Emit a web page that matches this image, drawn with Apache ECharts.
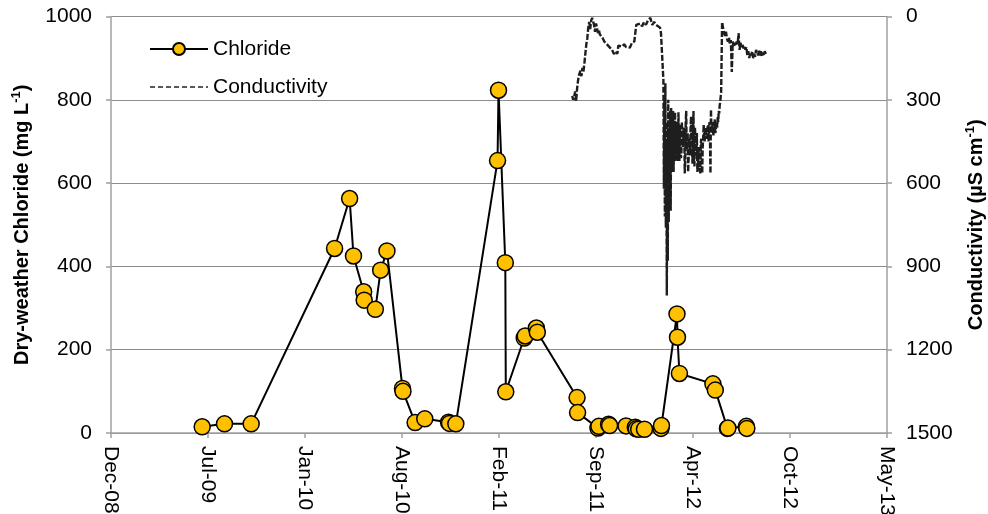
<!DOCTYPE html>
<html>
<head>
<meta charset="utf-8">
<script src="https://cdn.jsdelivr.net/npm/echarts@6/dist/echarts.min.js"></script>
<style>
html,body{margin:0;padding:0;background:#fff;}
#chart{width:988px;height:514px;}
</style>
</head>
<body>
<div id="chart"></div>
<script>
// ---- Data ----
var axisStartDate = '2008-12-19';   // first x tick (Dec-08)
var axisStepDays = 200;             // x tick spacing (days)
var axisSpanDays = 1600;            // Dec-08 .. May-13
var monthNames = ['Jan','Feb','Mar','Apr','May','Jun','Jul','Aug','Sep','Oct','Nov','Dec'];

var chlorideDates = [
  '2009-06-25','2009-08-10','2009-10-04','2010-03-25','2010-04-25','2010-05-03',
  '2010-05-24','2010-05-25','2010-06-17','2010-06-28','2010-07-11','2010-08-12',
  '2010-08-13','2010-09-07','2010-09-27','2010-11-15','2010-11-17','2010-11-30',
  '2011-02-24','2011-02-26','2011-03-12','2011-03-13','2011-04-20','2011-04-22',
  '2011-05-15','2011-05-17','2011-08-07','2011-08-08','2011-09-19','2011-09-21',
  '2011-10-11','2011-10-13','2011-11-16','2011-12-05','2011-12-07','2011-12-12',
  '2011-12-24','2012-01-27','2012-01-28','2012-02-29','2012-03-01','2012-03-05',
  '2012-05-13','2012-05-18','2012-06-12','2012-06-13','2012-07-21','2012-07-22'
];
var chlorideValues = [
  15, 22, 22, 443, 563, 425,
  339, 319, 297, 391, 437, 107,
  100, 25, 34, 26, 23, 22,
  654, 823, 409, 99, 228, 233,
  252, 242, 85, 49, 12, 16,
  21, 18, 17, 14, 10, 9,
  9, 11, 18, 286, 230, 143,
  118, 103, 11, 12, 16, 11
];

// conductivity logger readings (date, µS/cm)
var condDatesA = [
  '2011-07-28','2011-07-30','2011-08-01','2011-08-03','2011-08-05','2011-08-07','2011-08-09','2011-08-11',
  '2011-08-14','2011-08-16','2011-08-18','2011-08-20','2011-08-22','2011-08-24','2011-08-26','2011-08-28',
  '2011-08-30','2011-09-01','2011-09-03','2011-09-05','2011-09-07','2011-09-09','2011-09-11','2011-09-13',
  '2011-09-15','2011-09-17','2011-09-19','2011-09-21','2011-09-23','2011-09-28','2011-10-02','2011-10-06',
  '2011-10-10','2011-10-14','2011-10-18','2011-10-22','2011-10-26','2011-10-29','2011-10-31','2011-11-04',
  '2011-11-08','2011-11-12','2011-11-16','2011-11-20','2011-11-24','2011-11-28','2011-12-03','2011-12-05',
  '2011-12-07','2011-12-11','2011-12-15','2011-12-19','2011-12-23','2011-12-27','2011-12-31','2012-01-05',
  '2012-01-09','2012-01-13','2012-01-17','2012-01-21','2012-01-25','2012-01-27',
  '2012-02-01','2012-02-02','2012-02-03','2012-02-04','2012-02-05','2012-02-06','2012-02-07','2012-02-08',
  '2012-02-09','2012-02-10','2012-02-11','2012-02-12','2012-02-13','2012-02-14','2012-02-15','2012-02-16',
  '2012-02-17','2012-02-18','2012-02-19','2012-02-20','2012-02-21','2012-02-22','2012-02-23','2012-02-24',
  '2012-02-25','2012-02-26','2012-02-27','2012-02-28','2012-02-29'
];
var condValuesA = [
  286, 300, 290, 270, 305, 260, 230, 210,
  195, 215, 185, 200, 170, 135, 100, 80,
  40, 20, 45, 15, 5, 0, 30, 55,
  25, 40, 60, 50, 65, 75, 90, 85,
  105, 110, 120, 135, 125, 135, 105, 100,
  108, 100, 110, 105, 112, 95, 90, 60,
  30, 35, 25, 35, 20, 30, 15, 5,
  30, 20, 30, 25, 40, 60,
  230, 620, 300, 720, 240, 760, 450, 1005,
  380, 880, 300, 740, 420, 640, 340, 700,
  330, 560, 350, 520, 340, 560, 380, 500,
  345, 520, 400, 470, 380
];
// daily readings, March-May 2012
var condMarValues = [400, 520, 345, 470, 520, 390, 400, 510, 500, 380, 440, 470, 450, 400, 420, 565,
  520, 380, 340, 480, 470, 420, 560, 510, 440, 460, 500, 400, 360, 490, 480];
var condAprValues = [530, 420, 340, 520, 540, 400, 440, 480, 500, 420, 560, 530, 520, 470, 555,
  545, 565, 460, 440, 520, 565, 470, 440, 390, 420, 450, 420, 400, 400, 440];
var condMayValues = [430, 400, 390, 450, 420, 380, 440, 565, 335, 400, 420, 380, 400, 430, 400,
  410, 370, 420, 410, 390, 380, 400, 360, 380, 340, 350, 320, 310, 290, 275];
var condDatesB = [
  '2012-06-01','2012-06-03','2012-06-05','2012-06-07','2012-06-09','2012-06-11','2012-06-13','2012-06-15',
  '2012-06-17','2012-06-19','2012-06-21','2012-06-23','2012-06-25','2012-06-27','2012-06-29','2012-07-01',
  '2012-07-03','2012-07-05','2012-07-07','2012-07-09','2012-07-11','2012-07-13','2012-07-15','2012-07-17',
  '2012-07-19','2012-07-21','2012-07-23','2012-07-25','2012-07-27','2012-07-29','2012-07-31','2012-08-02',
  '2012-08-04','2012-08-06','2012-08-08','2012-08-10','2012-08-12','2012-08-14','2012-08-16','2012-08-18',
  '2012-08-20','2012-08-22','2012-08-24','2012-08-26','2012-08-28','2012-08-30'
];
var condValuesB = [
  20, 40, 60, 70, 55, 80, 90, 75,
  100, 85, 200, 90, 110, 95, 105, 90,
  100, 60, 120, 95, 110, 100, 115, 105,
  120, 110, 140, 125, 150, 130, 140, 125,
  150, 135, 145, 120, 130, 140, 120, 140,
  125, 145, 130, 140, 125, 135
];

// ---- helpers ----
var DAY = 86400000;
function toUTC(s){ var p = s.split('-'); return Date.UTC(+p[0], +p[1]-1, +p[2]); }
var baseMs = toUTC(axisStartDate);
function dayOffset(s){ return Math.round((toUTC(s) - baseMs) / DAY); }
function labelFor(v){
  var d = new Date(baseMs + v * DAY);
  var yy = String(d.getUTCFullYear() % 100);
  if (yy.length < 2) yy = '0' + yy;
  return monthNames[d.getUTCMonth()] + '-' + yy;
}
function monthRows(year, month, values){
  return values.map(function(v, i){
    var ms = Date.UTC(year, month - 1, i + 1);
    return [Math.round((ms - baseMs) / DAY), v];
  });
}
var chlorideData = chlorideDates.map(function(d, i){ return [dayOffset(d), chlorideValues[i]]; });
var condData = []
  .concat(condDatesA.map(function(d, i){ return [dayOffset(d), condValuesA[i]]; }))
  .concat(monthRows(2012, 3, condMarValues))
  .concat(monthRows(2012, 4, condAprValues))
  .concat(monthRows(2012, 5, condMayValues))
  .concat(condDatesB.map(function(d, i){ return [dayOffset(d), condValuesB[i]]; }));

var FONT = '"Liberation Sans", Arial, sans-serif';
var gridGray = '#8c8c8c';
var axisGray = '#a0a0a0';

var chart = echarts.init(document.getElementById('chart'), null, {renderer: 'canvas'});
chart.setOption({
  animation: false,
  backgroundColor: '#fff',
  textStyle: {fontFamily: FONT},
  grid: {left: 111, right: 101, top: 16.5, bottom: 81, containLabel: false, outerBoundsMode: 'none'},
  legend: {
    orient: 'vertical',
    left: 144, top: 32,
    itemWidth: 58, itemHeight: 15, itemGap: 14,
    textStyle: {fontFamily: FONT, fontSize: 21, color: '#000', lineHeight: 24},
    data: [
      {name: 'Chloride'},
      {name: 'Conductivity', itemStyle: {opacity: 0, borderWidth: 0},
        lineStyle: {color: '#222', width: 1.6, type: [5, 3]}}
    ]
  },
  xAxis: {
    type: 'value',
    min: 0, max: axisSpanDays, interval: axisStepDays,
    axisLine: {show: true, lineStyle: {color: axisGray, width: 1.5}},
    axisTick: {show: true, length: 5, lineStyle: {color: axisGray, width: 1.5}},
    splitLine: {show: false},
    axisLabel: {
      rotate: -90, margin: 13, fontSize: 21, color: '#000', fontFamily: FONT,
      formatter: function(v){ return labelFor(v); }
    }
  },
  yAxis: [
    {
      type: 'value', min: 0, max: 1000, interval: 200,
      position: 'left',
      name: 'Dry-weather Chloride (mg L{sup|-1})',
      nameLocation: 'middle', nameGap: 77, nameRotate: 90,
      nameTextStyle: {fontFamily: FONT, fontSize: 20, fontWeight: 'bold', color: '#000', lineHeight: 24,
        rich: {sup: {fontFamily: FONT, fontSize: 13, fontWeight: 'bold', color: '#000', verticalAlign: 'top', lineHeight: 14}}},
      axisLine: {show: true, lineStyle: {color: axisGray, width: 1.5}},
      axisTick: {show: true, length: 5, lineStyle: {color: axisGray, width: 1.5}},
      splitLine: {show: true, lineStyle: {color: gridGray, width: 1.2}},
      axisLabel: {fontSize: 21, color: '#000', margin: 19, fontFamily: FONT,
        formatter: function(v){ return String(v); }}
    },
    {
      type: 'value', min: 0, max: 1500, interval: 300, inverse: true,
      position: 'right',
      name: 'Conductivity (µS cm{sup|-1})',
      nameLocation: 'middle', nameGap: 77, nameRotate: 90,
      nameTextStyle: {fontFamily: FONT, fontSize: 20, fontWeight: 'bold', color: '#000', lineHeight: 24,
        rich: {sup: {fontFamily: FONT, fontSize: 13, fontWeight: 'bold', color: '#000', verticalAlign: 'top', lineHeight: 14}}},
      axisLine: {show: true, lineStyle: {color: axisGray, width: 1.5}},
      axisTick: {show: true, length: 5, lineStyle: {color: axisGray, width: 1.5}},
      splitLine: {show: false},
      axisLabel: {fontSize: 21, color: '#000', margin: 19, fontFamily: FONT,
        formatter: function(v){ return String(v); }}
    }
  ],
  series: [
    {
      name: 'Conductivity',
      type: 'line',
      yAxisIndex: 1,
      data: condData,
      symbol: 'none',
      z: 2,
      lineStyle: {color: '#1e1e1e', width: 2.4, type: [6, 2]},
      itemStyle: {color: '#1e1e1e'}
    },
    {
      name: 'Chloride',
      type: 'line',
      yAxisIndex: 0,
      data: chlorideData,
      symbol: 'circle',
      symbolSize: 16,
      z: 3,
      lineStyle: {color: '#000', width: 2},
      itemStyle: {color: '#FFC000', borderColor: '#000', borderWidth: 1.5}
    }
  ]
});
</script>
</body>
</html>
